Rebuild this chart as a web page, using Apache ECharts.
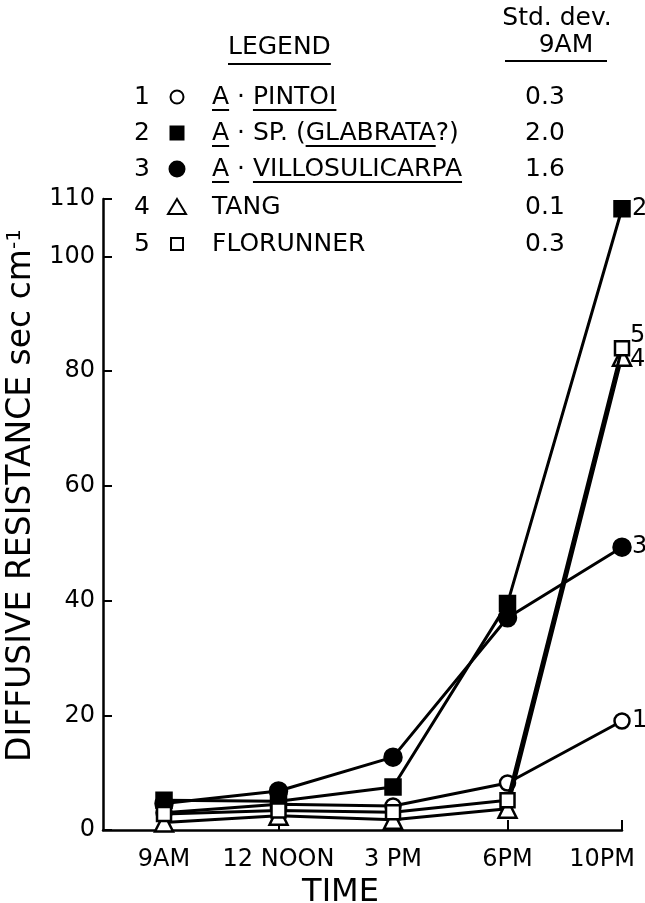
<!DOCTYPE html>
<html><head><meta charset="utf-8">
<script src="https://cdn.jsdelivr.net/npm/echarts@6/dist/echarts.min.js"></script>
<style>html,body{margin:0;padding:0;background:#fff}#c{width:645px;height:903px}</style>
</head><body><div id="c"></div>
<script>
// ---------- data ----------
const timeLabels = ['9AM', '12 NOON', '3 PM', '6PM', '10PM'];
const seriesNums = ['1', '2', '3', '4', '5'];
const stdDev9AM = ['0.3', '2.0', '1.6', '0.1', '0.3'];
const pintoi = [3.0, 4.5, 4.2, 8.2, 19.0];
const glabrata = [5.2, 5.0, 7.5, 39.5, 108.3];
const villosulicarpa = [4.6, 6.8, 12.7, 37.0, 49.3];
const tang = [1.3, 2.5, 1.8, 3.7, 82.5];
const florunner = [2.8, 3.4, 3.1, 5.2, 84.0];
const yTickValues = [0, 20, 40, 60, 80, 100, 110];
// legend name pieces: [text, underlined]
const legendParts = [
  [['A', true], [' · ', false], ['PINTOI', true]],
  [['A', true], [' · SP. (', false], ['GLABRATA', true], ['?)', false]],
  [['A', true], [' · ', false], ['VILLOSULICARPA', true]],
  [['TANG', false]],
  [['FLORUNNER', false]]
];

const FONT = 'DejaVu Sans';
const mctx = document.createElement('canvas').getContext('2d');
function tw(t, size) { mctx.font = size + 'px "' + FONT + '"'; return mctx.measureText(t).width; }

const allValues = [pintoi, glabrata, villosulicarpa, tang, florunner];
const symbolDefs = [
  { symbol: 'circle', size: 15, fill: '#fff' },
  { symbol: 'rect', size: 15, fill: '#000' },
  { symbol: 'circle', size: 17, fill: '#000' },
  { symbol: 'triangle', size: 18, fill: '#fff' },
  { symbol: 'rect', size: 14, fill: '#fff' }
];
const endOffsets = [[2, 0], [2, 0], [2, 0], [0, 3], [0, -12]];

const series = allValues.map((vals, i) => ({
  type: 'line',
  name: seriesNums[i],
  data: vals.map((v, j) => [j, v]),
  symbol: symbolDefs[i].symbol,
  symbolSize: symbolDefs[i].size,
  showAllSymbol: true,
  lineStyle: { color: '#000', width: 3 },
  itemStyle: { color: symbolDefs[i].fill, borderColor: '#000', borderWidth: 2.5, opacity: 1 },
  z: 2 + i,
  endLabel: {
    show: true,
    formatter: seriesNums[i],
    offset: endOffsets[i],
    fontFamily: FONT, fontSize: 24, color: '#000'
  },
  emphasis: { disabled: true }
}));

// ---------- legend graphics ----------
const rowY = [97, 133, 169, 207, 244];
const LF = 25;
const graphic = [];
graphic.push({ type: 'text', left: 228, top: 50 - 15, style: { text: 'LEGEND', font: LF + 'px "' + FONT + '"', fill: '#000' } });
graphic.push({ type: 'line', shape: { x1: 228, y1: 64, x2: 228 + tw('LEGEND', LF), y2: 64 }, style: { stroke: '#000', lineWidth: 2 } });
graphic.push({ type: 'text', x: 557, y: 18, style: { text: 'Std. dev.', font: LF + 'px "' + FONT + '"', fill: '#000', align: 'center', verticalAlign: 'middle' } });
graphic.push({ type: 'text', x: 566, y: 45, style: { text: '9AM', font: LF + 'px "' + FONT + '"', fill: '#000', align: 'center', verticalAlign: 'middle' } });
graphic.push({ type: 'line', shape: { x1: 505, y1: 61, x2: 607, y2: 61 }, style: { stroke: '#000', lineWidth: 2 } });

rowY.forEach((y, i) => {
  graphic.push({ type: 'text', x: 142, y: y, style: { text: seriesNums[i], font: LF + 'px "' + FONT + '"', fill: '#000', align: 'center', verticalAlign: 'middle' } });
  // marker
  const mx = 177, s = symbolDefs[i];
  const ms = { fill: s.fill, stroke: '#000', lineWidth: 2 };
  if (s.symbol === 'circle') graphic.push({ type: 'circle', shape: { cx: mx, cy: y, r: s.size / 2 - 1 }, style: ms });
  else if (s.symbol === 'rect') graphic.push({ type: 'rect', shape: { x: mx - s.size / 2 + 1, y: y - s.size / 2 + 1, width: s.size - 2, height: s.size - 2 }, style: ms });
  else graphic.push({ type: 'polygon', shape: { points: [[mx, y - 8], [mx + 9, y + 7], [mx - 9, y + 7]] }, style: ms });
  // name pieces
  let x = 212;
  legendParts[i].forEach(([t, u]) => {
    const w = tw(t, LF);
    graphic.push({ type: 'text', x: x, y: y, style: { text: t, font: LF + 'px "' + FONT + '"', fill: '#000', align: 'left', verticalAlign: 'middle' } });
    if (u) graphic.push({ type: 'line', shape: { x1: x, y1: y + 13, x2: x + w, y2: y + 13 }, style: { stroke: '#000', lineWidth: 2 } });
    x += w;
  });
  graphic.push({ type: 'text', x: 545, y: y, style: { text: stdDev9AM[i], font: LF + 'px "' + FONT + '"', fill: '#000', align: 'center', verticalAlign: 'middle' } });
});

const chart = echarts.init(document.getElementById('c'), null, { renderer: 'canvas' });
chart.setOption({
  backgroundColor: '#fff',
  animation: false,
  grid: { left: 103, right: 23, top: 199, bottom: 73, outerBoundsMode: 'none', containLabel: false },
  xAxis: {
    type: 'value', min: -0.533, max: 4,
    axisLine: { onZero: false, lineStyle: { color: '#000', width: 2.5 } },
    axisTick: { inside: true, length: 10, lineStyle: { color: '#000', width: 2 }, customValues: [0, 1, 2, 3, 4] },
    axisLabel: {
      customValues: [0, 1, 2, 3, 4],
      formatter: v => '{l' + Math.round(v) + '|' + timeLabels[Math.round(v)] + '}',
      margin: 18,
      rich: {
        l0: { fontFamily: FONT, fontSize: 24, color: '#000' },
        l1: { fontFamily: FONT, fontSize: 24, color: '#000' },
        l2: { fontFamily: FONT, fontSize: 24, color: '#000' },
        l3: { fontFamily: FONT, fontSize: 24, color: '#000' },
        l4: { fontFamily: FONT, fontSize: 24, color: '#000', padding: [0, 40, 0, 0] }
      }
    },
    splitLine: { show: false },
    name: 'TIME', nameLocation: 'middle', nameGap: 37,
    nameTextStyle: { fontFamily: FONT, fontSize: 32, color: '#000', padding: [0, 44, 0, 0] }
  },
  yAxis: {
    type: 'value', min: 0, max: 110,
    axisLine: { show: true, onZero: false, lineStyle: { color: '#000', width: 2.5 } },
    axisTick: { show: true, inside: true, length: 9, lineStyle: { color: '#000', width: 2 }, customValues: yTickValues },
    axisLabel: { customValues: yTickValues, fontFamily: FONT, fontSize: 24, color: '#000', margin: 8 },
    splitLine: { show: false },
    name: '{a|DIFFUSIVE RESISTANCE sec cm}{b|-1}',
    nameLocation: 'middle', nameGap: 62, nameRotate: 90,
    nameTextStyle: {
      padding: [0, 0, 0, 38],
      rich: {
        a: { fontFamily: FONT, fontSize: 33, color: '#000' },
        b: { fontFamily: FONT, fontSize: 20, color: '#000', verticalAlign: 'top', padding: [0, 0, 14, 0] }
      }
    }
  },
  graphic: graphic,
  series: series
});
</script>
</body></html>
